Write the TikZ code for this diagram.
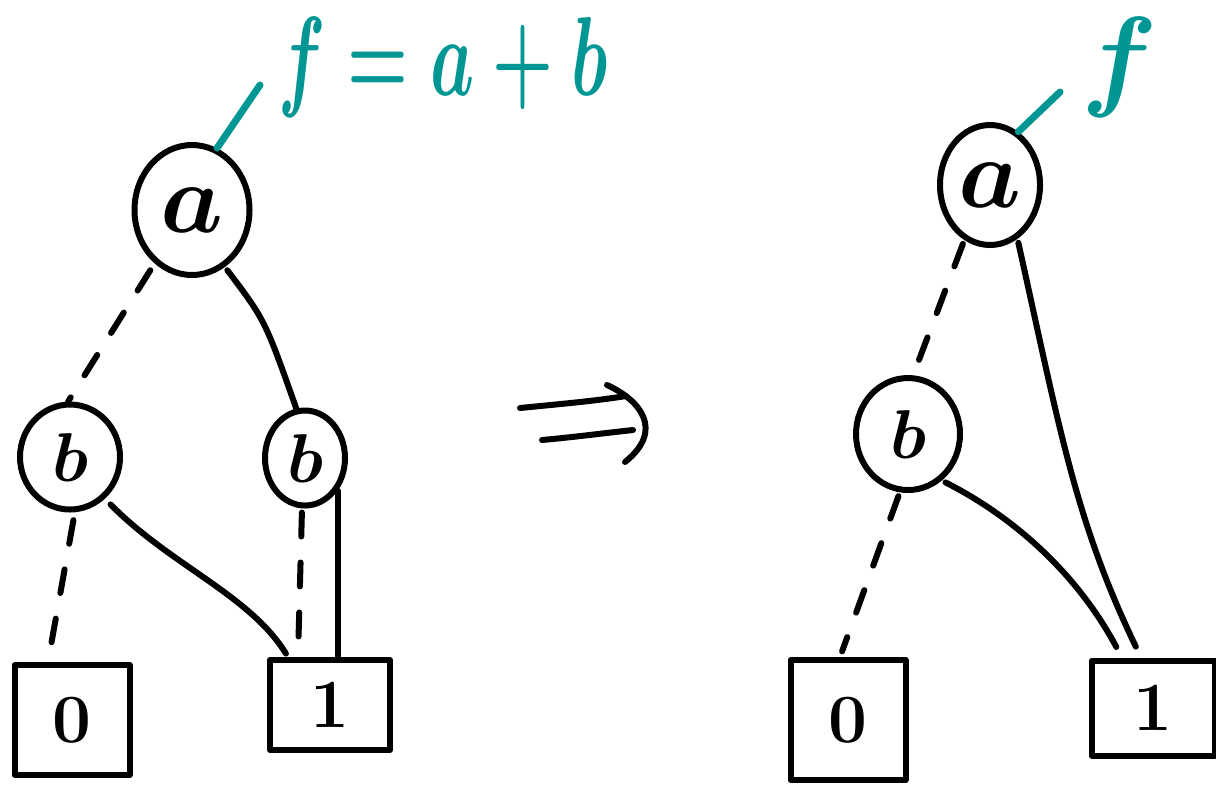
\documentclass[tikz,border=0pt]{standalone}
\usetikzlibrary{shapes.geometric}
\definecolor{tealc}{RGB}{0,150,148}
\begin{document}
\begin{tikzpicture}[x=0.25pt,y=-0.25pt,
  ink/.style={line width=1.5pt,line cap=round,line join=round},
  dashink/.style={ink,dash pattern=on 6pt off 6.5pt},
  tline/.style={line width=1.75pt,line cap=round,draw=tealc},
  vnode/.style={ellipse,draw,ink,inner sep=0pt},
  leaf/.style={rectangle,draw,ink,inner sep=0pt,font=\LARGE\bfseries},
  bigA/.style={font=\Huge\boldmath},
  bigB/.style={font=\LARGE\boldmath},
  tlabel/.style={text=tealc,inner sep=0pt,font=\Huge\boldmath}
  ]
\useasboundingbox (0,0) rectangle (1216,784);

% ---- left diagram ----
\node[vnode,bigA,minimum width=28.75pt,minimum height=32.5pt] (aL) at (192,210) {$a$};
\node[vnode,bigB,minimum width=25pt,minimum height=26.25pt] (bL) at (70,457) {$b$};
\node[vnode,bigB,minimum width=20pt,minimum height=23.75pt] (bR) at (305,458) {$b$};
\node[leaf,minimum width=28.75pt,minimum height=27.5pt] (zL) at (72,720) {0};
\node[leaf,minimum width=30pt,minimum height=22.5pt] (oL) at (330,705) {1};

\draw[dashink,shorten <=2pt] (aL.235) -- (bL.92);
\draw[ink,shorten <=1pt] (aL.300) .. controls (265,320) .. (bR.100);
\draw[dashink,shorten <=2pt,shorten >=1pt] (bL.275) -- ([xshift=-6pt]zL.north);
\draw[ink,shorten <=2pt,shorten >=1pt] (bL.310) .. controls (170,565) and (250,595) .. ([xshift=-10.5pt]oL.north);
\draw[dashink,shorten <=1pt,shorten >=2pt] ([xshift=-0.75pt]bR.south) -- ([xshift=-8pt]oL.north);
\draw[ink] (bR.-45) -- (bR.-45 |- oL.north);

\coordinate (fLc) at (260,85);
\draw[tline] (aL.68) -- (fLc);
\node[tlabel] (labL) at (443,67) {\scalebox{0.70}[1.13]{$f = a + b$}};

% ---- arrow ----
\coordinate (ar1) at (520,408);
\coordinate (ar2) at (626,396);
\coordinate (ar3) at (542,440);
\coordinate (ar4) at (633,430);
\draw[ink] (ar1) .. controls (560,404) and (595,401) .. (ar2);
\draw[ink] (ar3) .. controls (575,437) and (605,433) .. (ar4);
\draw[ink] (607,385) .. controls (640,400) and (665,430) .. (625,462);

% ---- right diagram ----
\node[vnode,bigA,minimum width=25pt,minimum height=30pt] (aR) at (990,185) {$a$};
\node[vnode,bigB,minimum width=26pt,minimum height=28pt] (bR2) at (908,434) {$b$};
\node[leaf,minimum width=28.75pt,minimum height=30pt] (zR) at (848,720) {0};
\node[leaf,minimum width=30.75pt,minimum height=23.75pt] (oR) at (1153,708) {1};

\draw[dashink,shorten <=1pt] (aR.245) -- (bR2.85);
\draw[ink,shorten <=1pt,shorten >=3pt] (aR.297) .. controls (1060,430) and (1075,520) .. ([xshift=-3pt]oR.north);
\draw[dashink,shorten <=1pt,shorten >=1.5pt] (bR2.262) -- ([xshift=-2pt]zR.north);
\draw[ink,shorten <=1pt,shorten >=3pt] (bR2.306) .. controls (1010,515) and (1075,570) .. ([xshift=-7.75pt]oR.north);

\coordinate (fRc) at (1060,92);
\draw[tline] (aR.62) -- (fRc);
\node[tlabel] (labR) at (1120,67) {\scalebox{1.13}{$f$}};
\end{tikzpicture}
\end{document}
